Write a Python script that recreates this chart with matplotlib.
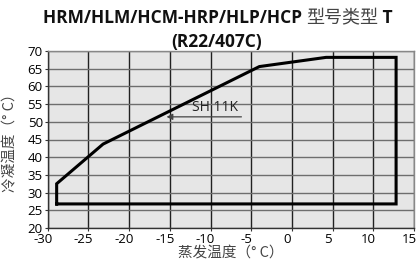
import matplotlib
matplotlib.use("Agg")
import matplotlib.pyplot as plt
from matplotlib.transforms import ScaledTranslation

plt.rcParams["axes.unicode_minus"] = False

# Envelope data (evaporating temp, condensing temp)
evap = [-28.9, -28.9, -23.2, -4.0, 4.2, 12.8, 12.8, -28.9]
cond = [26.8, 32.5, 43.7, 65.6, 68.2, 68.2, 26.8, 26.8]

x_ticks = [-30, -25, -20, -15, -10, -5, 0, 5, 10, 15]
y_ticks = [20, 25, 30, 35, 40, 45, 50, 55, 60, 65, 70]

annot_text = "SH 11K"
annot_point = (-15.4, 51.4)
annot_tail = (-6.2, 51.4)

title_l1_a = "HRM/HLM/HCM-HRP/HLP/HCP "
title_l1_b = "型号类型"
title_l1_c = " T"
title_l2 = "(R22/407C)"
xlabel = "蒸发温度（° C）"
ylabel = "冷凝温度（° C）"

W, H = 416, 263
fig = plt.figure(figsize=(W / 100, H / 100), dpi=100)
ax = fig.add_axes([47.7 / W, 1 - 228 / H, (414.0 - 47.7) / W, (228 - 51) / H])
ax.set_facecolor("#e6e6e6")

ax.set_xlim(-30, 15)
ax.set_ylim(20, 70)
ax.set_xticks(x_ticks)
ax.set_yticks(y_ticks)
ax.set_axisbelow(True)
ax.grid(axis="x", color="#222222", linewidth=1.0)
ax.grid(axis="y", color="#6e6e6e", linewidth=1.0)
for s in ax.spines.values():
    s.set_color("#888888")
    s.set_linewidth(1.0)
ax.spines["left"].set_color("#333333")
ax.spines["bottom"].set_color("#333333")

ax.plot(evap, cond, color="black", linewidth=2.2, solid_joinstyle="miter")

latin = ["Open Sans", "DejaVu Sans"]
cjk = ["Noto Sans CJK SC", "DejaVu Sans"]

ax.tick_params(axis="both", length=2, width=0.8, color="#333333", labelcolor="black")
ax.tick_params(axis="x", pad=1.5)
ax.tick_params(axis="y", pad=1.5)
shift = ScaledTranslation(-5 / 100, 0, fig.dpi_scale_trans)
for lab in ax.get_xticklabels():
    lab.set_fontfamily(latin)
    lab.set_fontsize(9.5)
    lab.set_transform(lab.get_transform() + shift)
for lab in ax.get_yticklabels():
    lab.set_fontfamily(latin)
    lab.set_fontsize(9.5)

# annotation: underline with arrow pointing to the envelope line
ax.annotate("", xy=annot_point, xytext=annot_tail,
            arrowprops=dict(arrowstyle="-|>,head_length=0.35,head_width=0.18",
                            color="#444444", lw=0.9, shrinkA=0, shrinkB=0))
ax.text(-12.3, 51.9, annot_text, fontsize=10, family=latin,
        color="#222222", va="bottom", ha="left")

ax.set_xlabel(xlabel, family=cjk, fontsize=10.5, color="#444444", labelpad=0)
ax.set_ylabel(ylabel, family=cjk, fontsize=10.5, color="#444444", labelpad=7)

# title, built from pieces on a common baseline
y1 = 1 - 23.3 / H
t1 = fig.text(43 / W, y1, title_l1_a, family=latin,
              fontweight="bold", fontsize=12.5, va="baseline", ha="left", color="#111111")
t2 = fig.text(0, y1, title_l1_b, family=cjk, fontsize=13, va="baseline", ha="left", color="#444444")
t3 = fig.text(0, y1, title_l1_c, family=latin, fontweight="bold", fontsize=12.5,
              va="baseline", ha="left", color="#111111")
fig.canvas.draw()
r = fig.canvas.get_renderer()
bb1 = t1.get_window_extent(r)
t2.set_position((bb1.x1 / W, y1))
fig.canvas.draw()
bb2 = t2.get_window_extent(r)
t3.set_position((bb2.x1 / W, y1))
fig.text(216.5 / W, 1 - 46.5 / H, title_l2, family=latin,
         fontweight="bold", fontsize=12.5, va="baseline", ha="center", color="#111111")

fig.savefig("out.png", dpi=100)
